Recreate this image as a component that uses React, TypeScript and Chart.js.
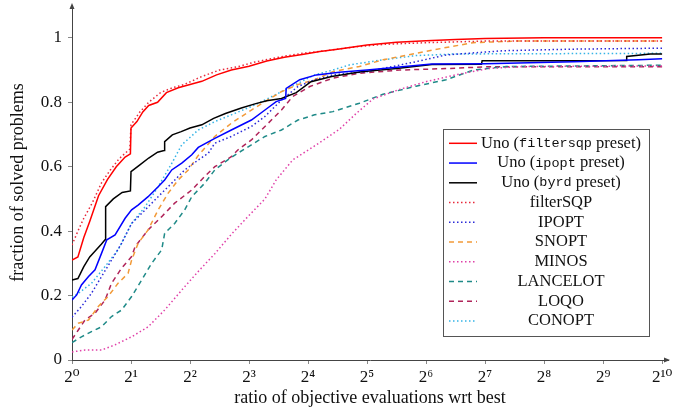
import { useEffect, useRef } from 'react';
import Chart from 'chart.js/auto';

// x is log2 of the ratio (0 → 2^0, 10 → 2^10)
const xTickLabels = ['2⁰', '2¹', '2²', '2³', '2⁴', '2⁵', '2⁶', '2⁷', '2⁸', '2⁹', '2¹⁰'];
const yTickValues = [0, 0.2, 0.4, 0.6, 0.8, 1];

const unoFilterTau = [0, 0.1, 0.2, 0.3, 0.45, 0.6, 0.75, 0.9, 0.99, 1.0, 1.1, 1.2, 1.3, 1.45, 1.6, 1.8, 2.0, 2.2, 2.45, 2.7, 3.0, 3.3, 3.6, 3.9, 4.2, 4.5, 5.0, 5.5, 6.0, 6.5, 7.0, 8.0, 10];
const unoFilterFrac = [0.31, 0.32, 0.38, 0.43, 0.51, 0.56, 0.6, 0.63, 0.64, 0.72, 0.74, 0.77, 0.79, 0.8, 0.83, 0.845, 0.855, 0.865, 0.885, 0.9, 0.912, 0.928, 0.94, 0.948, 0.958, 0.965, 0.978, 0.986, 0.991, 0.995, 0.998, 1.0, 1.0];

const unoIpoptTau = [0, 0.08, 0.16, 0.28, 0.39, 0.5, 0.59, 0.73, 0.9, 1.01, 1.12, 1.29, 1.46, 1.57, 1.69, 1.86, 2.03, 2.14, 2.42, 2.7, 3.04, 3.27, 3.46, 3.62, 3.63, 3.86, 4.14, 4.53, 5.0, 6.1, 7.0, 8.5, 9.6, 10];
const unoIpoptFrac = [0.186, 0.202, 0.233, 0.259, 0.28, 0.331, 0.373, 0.388, 0.44, 0.466, 0.481, 0.507, 0.538, 0.559, 0.59, 0.611, 0.637, 0.66, 0.688, 0.714, 0.745, 0.776, 0.802, 0.812, 0.843, 0.87, 0.885, 0.893, 0.9, 0.919, 0.92, 0.926, 0.932, 0.935];

const unoByrdTau = [0, 0.1, 0.2, 0.3, 0.4, 0.5, 0.56, 0.57, 0.7, 0.85, 0.99, 1.0, 1.15, 1.3, 1.45, 1.56, 1.57, 1.7, 1.85, 2.0, 2.2, 2.4, 2.6, 2.87, 3.1, 3.3, 3.55, 3.8, 4.05, 4.4, 4.9, 5.5, 6.1, 6.94, 6.95, 8.4, 9.39, 9.4, 9.8, 10];
const unoByrdFrac = [0.248, 0.253, 0.29, 0.32, 0.34, 0.36, 0.373, 0.476, 0.5, 0.52, 0.525, 0.585, 0.606, 0.627, 0.645, 0.65, 0.678, 0.699, 0.709, 0.72, 0.73, 0.75, 0.765, 0.782, 0.795, 0.805, 0.812, 0.83, 0.864, 0.88, 0.895, 0.905, 0.917, 0.918, 0.929, 0.929, 0.93, 0.942, 0.95, 0.95];

const filterSqpTau = [0, 0.1, 0.2, 0.35, 0.5, 0.65, 0.8, 0.98, 1.0, 1.15, 1.3, 1.5, 1.7, 1.9, 2.2, 2.5, 2.8, 3.1, 3.5, 3.9, 4.3, 4.8, 5.3, 6.0, 7.0, 10];
const filterSqpFrac = [0.357, 0.4, 0.44, 0.49, 0.55, 0.59, 0.625, 0.655, 0.73, 0.77, 0.8, 0.83, 0.845, 0.855, 0.88, 0.9, 0.91, 0.925, 0.94, 0.952, 0.96, 0.972, 0.98, 0.985, 0.99, 0.99];

const ipoptTau = [0, 0.16, 0.33, 0.5, 0.67, 0.84, 1.01, 1.24, 1.46, 1.69, 1.91, 2.14, 2.31, 2.42, 2.7, 3.04, 3.27, 3.55, 3.83, 4.11, 4.42, 4.99, 5.27, 5.83, 6.34, 7.3, 8.5, 10];
const ipoptFrac = [0.133, 0.166, 0.207, 0.259, 0.31, 0.362, 0.424, 0.466, 0.507, 0.549, 0.59, 0.621, 0.642, 0.673, 0.694, 0.725, 0.756, 0.807, 0.849, 0.87, 0.885, 0.895, 0.905, 0.926, 0.947, 0.96, 0.965, 0.968];

const snoptTau = [0, 0.107, 0.28, 0.445, 0.61, 0.78, 0.95, 1.01, 1.12, 1.29, 1.46, 1.63, 1.8, 1.97, 2.14, 2.42, 2.7, 3.04, 3.27, 3.55, 3.83, 4.11, 4.42, 4.87, 5.27, 5.83, 6.34, 6.8, 7.5, 10];
const snoptFrac = [0.093, 0.114, 0.124, 0.166, 0.197, 0.238, 0.269, 0.31, 0.362, 0.404, 0.466, 0.518, 0.559, 0.59, 0.635, 0.694, 0.735, 0.776, 0.802, 0.833, 0.855, 0.87, 0.895, 0.911, 0.932, 0.952, 0.97, 0.985, 0.99, 0.99];

const minosTau = [0, 0.22, 0.5, 0.73, 1.01, 1.29, 1.57, 1.86, 2.14, 2.42, 2.7, 2.98, 3.27, 3.46, 3.74, 4.14, 4.53, 4.82, 5.1, 5.55, 6.0, 6.5, 7.07, 7.64, 10];
const minosFrac = [0.025, 0.031, 0.031, 0.047, 0.072, 0.103, 0.155, 0.217, 0.275, 0.33, 0.39, 0.445, 0.5, 0.559, 0.621, 0.668, 0.716, 0.766, 0.81, 0.84, 0.864, 0.885, 0.905, 0.911, 0.913];

const lancelotTau = [0, 0.16, 0.33, 0.5, 0.67, 0.84, 1.01, 1.18, 1.35, 1.52, 1.57, 1.74, 1.91, 2.03, 2.25, 2.42, 2.64, 2.81, 3.04, 3.27, 3.55, 3.83, 4.11, 4.42, 4.87, 5.27, 5.83, 6.34, 6.8, 7.36, 10];
const lancelotFrac = [0.054, 0.072, 0.088, 0.103, 0.135, 0.155, 0.197, 0.248, 0.3, 0.342, 0.393, 0.424, 0.466, 0.507, 0.549, 0.59, 0.621, 0.642, 0.668, 0.694, 0.714, 0.745, 0.761, 0.771, 0.797, 0.825, 0.85, 0.87, 0.9, 0.911, 0.915];

const loqoTau = [0, 0.107, 0.22, 0.39, 0.56, 0.67, 0.84, 1.01, 1.07, 1.29, 1.52, 1.74, 2.03, 2.25, 2.42, 2.7, 2.81, 3.04, 3.27, 3.55, 3.74, 4.03, 4.42, 4.87, 5.55, 6.4, 7.0, 10];
const loqoFrac = [0.064, 0.093, 0.124, 0.145, 0.186, 0.238, 0.285, 0.321, 0.352, 0.404, 0.445, 0.487, 0.528, 0.57, 0.6, 0.631, 0.652, 0.683, 0.725, 0.776, 0.818, 0.849, 0.875, 0.89, 0.9, 0.905, 0.91, 0.91];

const conoptTau = [0, 0.107, 0.33, 0.56, 0.78, 1.01, 1.24, 1.46, 1.69, 1.86, 2.14, 2.42, 2.7, 3.04, 3.27, 3.55, 3.83, 4.11, 4.42, 4.7, 5.27, 5.83, 6.5, 10];
const conoptFrac = [0.195, 0.207, 0.238, 0.29, 0.342, 0.424, 0.476, 0.538, 0.61, 0.668, 0.714, 0.74, 0.761, 0.787, 0.807, 0.833, 0.859, 0.885, 0.9, 0.916, 0.932, 0.945, 0.95, 0.952];

const SERIF = "'Liberation Serif', 'DejaVu Serif', serif";
const MONO = "'Liberation Mono', 'DejaVu Sans Mono', monospace";
const DOTTED = [1.5, 2.5];
const DASHED = [5, 4];

const zip = (xs: number[], ys: number[]) => xs.map((x, i) => ({ x, y: ys[i] }));

// legend label: [before, mono part, after]
const series = [
    { label: ['Uno (', 'filtersqp', ' preset)'], tau: unoFilterTau, frac: unoFilterFrac, color: '#ff0000', dash: [] as number[] },
    { label: ['Uno (', 'ipopt', ' preset)'], tau: unoIpoptTau, frac: unoIpoptFrac, color: '#0000ff', dash: [] as number[] },
    { label: ['Uno (', 'byrd', ' preset)'], tau: unoByrdTau, frac: unoByrdFrac, color: '#000000', dash: [] as number[] },
    { label: ['filterSQP', '', ''], tau: filterSqpTau, frac: filterSqpFrac, color: '#e8283a', dash: DOTTED },
    { label: ['IPOPT', '', ''], tau: ipoptTau, frac: ipoptFrac, color: '#2a2ad8', dash: DOTTED },
    { label: ['SNOPT', '', ''], tau: snoptTau, frac: snoptFrac, color: '#f29a38', dash: DASHED },
    { label: ['MINOS', '', ''], tau: minosTau, frac: minosFrac, color: '#e040a8', dash: DOTTED },
    { label: ['LANCELOT', '', ''], tau: lancelotTau, frac: lancelotFrac, color: '#1f8a88', dash: DASHED },
    { label: ['LOQO', '', ''], tau: loqoTau, frac: loqoFrac, color: '#b0245a', dash: DASHED },
    { label: ['CONOPT', '', ''], tau: conoptTau, frac: conoptFrac, color: '#35b4e6', dash: DOTTED },
];

const boxLegend = {
    id: 'boxLegend',
    afterDraw(chart: any) {
        const { ctx, chartArea } = chart;
        const w = 206;
        const rowH = 19.75;
        const h = 207;
        const x0 = chartArea.right - 19 - w;
        const y0 = chartArea.bottom - 24 - h;
        ctx.save();
        ctx.fillStyle = '#fff';
        ctx.fillRect(x0, y0, w, h);
        ctx.strokeStyle = '#555';
        ctx.lineWidth = 1;
        ctx.strokeRect(Math.round(x0) + 0.5, Math.round(y0) + 0.5, w, h);
        ctx.textBaseline = 'middle';
        series.forEach((s, i) => {
            const cy = y0 + 14.3 + i * rowH;
            ctx.beginPath();
            ctx.setLineDash(s.dash);
            ctx.strokeStyle = s.color;
            ctx.lineWidth = 1.5;
            ctx.moveTo(x0 + 6, cy);
            ctx.lineTo(x0 + 34, cy);
            ctx.stroke();
            ctx.setLineDash([]);
            const [a, m, b] = s.label;
            const serifFont = `16.5px ${SERIF}`;
            const monoFont = `13.5px ${MONO}`;
            ctx.font = serifFont;
            const wa = ctx.measureText(a).width;
            const wb = ctx.measureText(b).width;
            ctx.font = monoFont;
            const wm = ctx.measureText(m).width;
            let tx = x0 + 118 - (wa + wm + wb) / 2;
            ctx.fillStyle = '#111';
            ctx.textAlign = 'left';
            ctx.font = serifFont;
            ctx.fillText(a, tx, cy);
            tx += wa;
            ctx.font = monoFont;
            ctx.fillText(m, tx, cy);
            tx += wm;
            ctx.font = serifFont;
            ctx.fillText(b, tx, cy);
        });
        ctx.restore();
    },
};

const axisArrows = {
    id: 'axisArrows',
    afterDraw(chart: any) {
        const { ctx, chartArea } = chart;
        ctx.save();
        ctx.fillStyle = '#444';
        const l = chartArea.left;
        const b = chartArea.bottom;
        ctx.beginPath();
        ctx.moveTo(l, chartArea.top - 2);
        ctx.lineTo(l - 2.5, chartArea.top + 4);
        ctx.lineTo(l + 2.5, chartArea.top + 4);
        ctx.closePath();
        ctx.fill();
        ctx.beginPath();
        ctx.moveTo(chartArea.right + 2, b);
        ctx.lineTo(chartArea.right - 4, b - 2.5);
        ctx.lineTo(chartArea.right - 4, b + 2.5);
        ctx.closePath();
        ctx.fill();
        ctx.restore();
    },
};

const PerformanceProfile: React.FC = () => {
    const chartRef = useRef<HTMLCanvasElement>(null);

    useEffect(() => {
        const canvas = chartRef.current;
        if (!canvas) return;

        const chart = new Chart(canvas, {
            type: 'line',
            data: {
                datasets: series.map((s) => ({
                    label: s.label.join(''),
                    data: zip(s.tau, s.frac),
                    borderColor: s.color,
                    borderDash: s.dash,
                    borderWidth: 1.5,
                    pointRadius: 0,
                    tension: 0,
                    fill: false,
                })),
            },
            options: {
                responsive: false,
                animation: false,
                layout: { padding: { top: 5, right: 12, left: 0, bottom: 0 } },
                plugins: {
                    legend: { display: false },
                    tooltip: { enabled: false },
                },
                scales: {
                    x: {
                        type: 'linear',
                        min: 0,
                        max: 10.1,
                        afterBuildTicks: (scale: any) => {
                            scale.ticks = xTickLabels.map((_, i) => ({ value: i }));
                        },
                        afterFit: (scale: any) => {
                            scale.height = 50;
                            scale.paddingLeft = 0;
                            scale.paddingRight = 0;
                        },
                        border: { color: '#444', width: 1 },
                        grid: { drawOnChartArea: false, drawTicks: true, tickLength: 4, color: '#888' },
                        ticks: {
                            autoSkip: false,
                            maxRotation: 0,
                            padding: 3,
                            color: '#111',
                            font: { family: SERIF, size: 17 },
                            callback: (v: any) => xTickLabels[Math.round(Number(v))] ?? '',
                        },
                        title: {
                            display: true,
                            text: 'ratio of objective evaluations wrt best',
                            color: '#111',
                            font: { family: SERIF, size: 18 },
                            padding: { top: 0, bottom: 1 },
                        },
                    },
                    y: {
                        type: 'linear',
                        min: 0,
                        max: 1.102,
                        afterBuildTicks: (scale: any) => {
                            scale.ticks = yTickValues.map((value) => ({ value }));
                        },
                        afterFit: (scale: any) => {
                            scale.width = 72;
                            scale.paddingTop = 0;
                            scale.paddingBottom = 0;
                        },
                        border: { color: '#444', width: 1 },
                        grid: { drawOnChartArea: false, drawTicks: true, tickLength: 4, color: '#888' },
                        ticks: {
                            padding: 6,
                            color: '#111',
                            font: { family: SERIF, size: 17 },
                            callback: (v: any) => String(Math.round(Number(v) * 10) / 10),
                        },
                        title: {
                            display: true,
                            text: 'fraction of solved problems',
                            color: '#111',
                            font: { family: SERIF, size: 18 },
                            padding: { top: 7, bottom: 0 },
                        },
                    },
                },
            },
            plugins: [boxLegend, axisArrows],
        });

        return () => {
            chart.destroy();
        };
    }, []);

    return <canvas ref={chartRef} width={680} height={410} style={{ display: 'block' }}></canvas>;
};

export default function App() {
    return (
        <div style={{ position: 'fixed', left: 0, top: 0, width: 680, height: 410, background: '#fff' }}>
            <PerformanceProfile />
        </div>
    );
}
